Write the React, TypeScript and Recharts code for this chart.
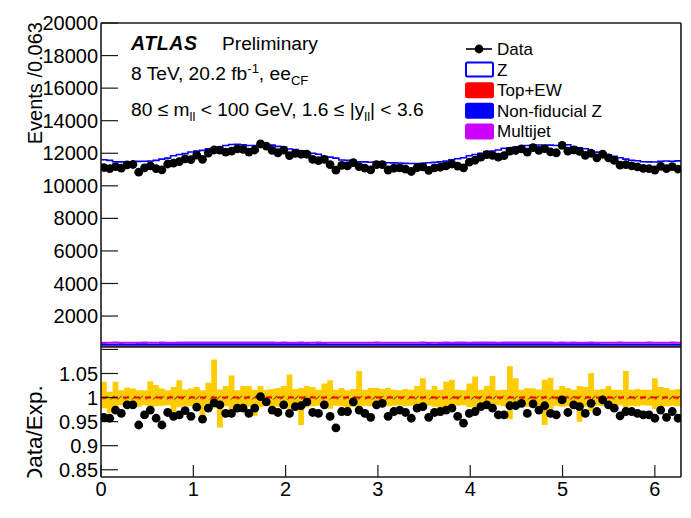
import React from "react";
import {
  ComposedChart,
  Area,
  Scatter,
  XAxis,
  YAxis,
  ReferenceLine,
  Legend,
} from "recharts";

const NBINS = 100;
const PHI_MAX = 2 * Math.PI;
const BIN_W = PHI_MAX / NBINS;

// Total expectation per phi bin (Z stacked on the backgrounds)
const expected = [
  11600, 11560, 11480, 11470, 11460, 11480, 11500, 11510, 11520, 11560,
  11640, 11700, 11850, 11920, 11980, 12080, 12130, 12180, 12280, 12340,
  12380, 12480, 12540, 12550, 12520, 12480, 12470, 12540, 12550, 12500,
  12420, 12380, 12260, 12220, 12150, 12050, 12000, 11940, 11800, 11760,
  11700, 11590, 11560, 11530, 11480, 11470, 11450, 11470, 11440, 11420,
  11410, 11400, 11380, 11370, 11360, 11380, 11420, 11450, 11470, 11520,
  11600, 11660, 11720, 11850, 11920, 11990, 12100, 12140, 12200, 12300,
  12340, 12380, 12420, 12480, 12500, 12510, 12490, 12500, 12480, 12550,
  12520, 12400, 12340, 12280, 12150, 12070, 12000, 11900, 11820, 11720,
  11640, 11570, 11540, 11480, 11470, 11460, 11500, 11520, 11510, 11530,
];

const dataCounts = [
  11120, 11060, 11180, 11090, 11290, 11310, 10840, 11100, 11220, 11060,
  10980, 11340, 11390, 11490, 11660, 11610, 11890, 11630, 12010, 12200,
  12190, 12070, 12130, 12270, 12240, 12070, 12200, 12570, 12440, 12180,
  12030, 12190, 11860, 11990, 11940, 11940, 11630, 11550, 11620, 11300,
  10960, 11250, 11220, 11430, 11180, 11090, 10980, 11300, 11300, 10970,
  11080, 11100, 11030, 10880, 11110, 11160, 10950, 11100, 11140, 11220,
  11340, 11210, 11100, 11460, 11570, 11760, 11920, 11870, 11760, 11860,
  12130, 12170, 12270, 12070, 12340, 12180, 12280, 12090, 12030, 12490,
  12130, 12210, 12110, 11870, 12000, 11720, 11940, 11720, 11560, 11270,
  11300, 11230, 11160, 11070, 11060, 10970, 11200, 11050, 11180, 11030,
];

const topEW = [
  172, 171, 170, 171, 169, 170, 172, 171, 170, 169,
  170, 171, 172, 173, 172, 174, 173, 172, 174, 175,
  174, 175, 174, 173, 174, 175, 174, 173, 172, 173,
  172, 171, 172, 170, 171, 170, 169, 170, 171, 170,
  169, 170, 168, 169, 170, 169, 170, 168, 169, 170,
  170, 169, 170, 171, 169, 170, 171, 170, 172, 171,
  172, 173, 172, 174, 173, 174, 175, 174, 173, 175,
  174, 175, 174, 173, 174, 173, 172, 173, 172, 171,
  172, 171, 170, 171, 170, 169, 170, 171, 169, 170,
  170, 169, 170, 171, 170, 169, 171, 170, 171, 172,
];

const nonFidZ = [
  150, 148, 149, 151, 150, 149, 150, 152, 151, 150,
  152, 153, 155, 154, 156, 157, 156, 158, 157, 158,
  159, 158, 160, 159, 158, 159, 160, 158, 157, 158,
  156, 157, 155, 154, 155, 153, 152, 153, 151, 150,
  150, 149, 148, 149, 150, 148, 149, 150, 148, 149,
  148, 149, 150, 148, 149, 150, 151, 150, 152, 153,
  154, 155, 156, 155, 157, 158, 157, 159, 158, 160,
  159, 160, 158, 159, 160, 158, 159, 157, 158, 156,
  155, 156, 154, 153, 152, 153, 151, 150, 151, 150,
  149, 150, 148, 149, 150, 149, 150, 151, 150, 149,
];

const multijet = [
  105, 98, 110, 102, 96, 108, 100, 112, 104, 99,
  107, 101, 95, 110, 103, 98, 106, 100, 113, 97,
  104, 109, 99, 102, 111, 96, 105, 100, 108, 103,
  98, 110, 101, 97, 106, 104, 99, 112, 100, 95,
  107, 103, 98, 109, 101, 105, 97, 111, 102, 99,
  106, 100, 96, 108, 103, 110, 98, 104, 101, 107,
  99, 112, 103, 97, 105, 100, 109, 102, 96, 108,
  104, 99, 111, 101, 98, 106, 103, 110, 97, 105,
  100, 108, 102, 96, 109, 104, 99, 107, 101, 112,
  98, 105, 103, 100, 110, 97, 106, 102, 108, 104,
];

const ratio = [
  0.959, 0.957, 0.974, 0.967, 0.985, 0.985, 0.943, 0.964, 0.974, 0.957,
  0.943, 0.969, 0.961, 0.964, 0.973, 0.961, 0.98, 0.955, 0.978, 0.989,
  0.985, 0.967, 0.967, 0.978, 0.978, 0.967, 0.978, 1.002, 0.991, 0.974,
  0.969, 0.985, 0.967, 0.981, 0.983, 0.991, 0.969, 0.967, 0.985, 0.961,
  0.937, 0.971, 0.971, 0.991, 0.974, 0.967, 0.959, 0.985, 0.988, 0.961,
  0.971, 0.974, 0.969, 0.957, 0.978, 0.981, 0.959, 0.969, 0.971, 0.974,
  0.978, 0.961, 0.947, 0.967, 0.971, 0.981, 0.985, 0.978, 0.964, 0.964,
  0.983, 0.983, 0.988, 0.967, 0.987, 0.974, 0.983, 0.967, 0.964, 0.995,
  0.969, 0.985, 0.981, 0.967, 0.988, 0.971, 0.995, 0.985, 0.978, 0.962,
  0.971, 0.971, 0.967, 0.964, 0.964, 0.957, 0.974, 0.959, 0.971, 0.957,
];

// total systematic band around 1
const bandHi = [
  1.033, 1.012, 1.033, 1.015, 1.021, 1.019, 1.015, 1.015, 1.034, 1.026,
  1.019, 1.015, 1.022, 1.036, 1.017, 1.019, 1.022, 1.015, 1.031, 1.079,
  1.017, 1.024, 1.046, 1.015, 1.024, 1.024, 1.016, 1.024, 1.016, 1.018,
  1.02, 1.024, 1.048, 1.018, 1.02, 1.024, 1.022, 1.016, 1.029, 1.036,
  1.016, 1.02, 1.015, 1.018, 1.055, 1.016, 1.02, 1.02, 1.018, 1.02,
  1.016, 1.015, 1.018, 1.016, 1.024, 1.04, 1.016, 1.024, 1.016, 1.033,
  1.037, 1.016, 1.015, 1.029, 1.044, 1.016, 1.024, 1.045, 1.015, 1.016,
  1.065, 1.04, 1.016, 1.02, 1.019, 1.017, 1.037, 1.041, 1.016, 1.024,
  1.02, 1.016, 1.024, 1.022, 1.051, 1.016, 1.018, 1.024, 1.016, 1.016,
  1.055, 1.016, 1.018, 1.016, 1.016, 1.04, 1.022, 1.02, 1.016, 1.018,
];

const bandLo = [
  0.978, 0.968, 0.98, 0.984, 0.982, 0.983, 0.981, 0.984, 0.979, 0.982,
  0.983, 0.984, 0.965, 0.98, 0.983, 0.982, 0.981, 0.95, 0.98, 0.978,
  0.938, 0.982, 0.975, 0.984, 0.98, 0.981, 0.962, 0.98, 0.983, 0.982,
  0.981, 0.98, 0.976, 0.983, 0.943, 0.98, 0.982, 0.983, 0.979, 0.977,
  0.983, 0.982, 0.962, 0.981, 0.972, 0.983, 0.982, 0.981, 0.983, 0.982,
  0.983, 0.984, 0.982, 0.983, 0.98, 0.977, 0.983, 0.981, 0.962, 0.979,
  0.978, 0.983, 0.984, 0.98, 0.975, 0.983, 0.981, 0.976, 0.984, 0.982,
  0.955, 0.978, 0.983, 0.981, 0.982, 0.983, 0.943, 0.977, 0.983, 0.981,
  0.982, 0.983, 0.95, 0.981, 0.972, 0.983, 0.982, 0.98, 0.983, 0.984,
  0.97, 0.983, 0.982, 0.984, 0.983, 0.976, 0.981, 0.982, 0.983, 0.982,
];

// MC statistical band (hatched)
const mcStat = [0.996, 1.004];

// axis ticks
const xMajor = [0, 1, 2, 3, 4, 5, 6];
const yMajorEvents = [2000, 4000, 6000, 8000, 10000, 12000, 14000, 16000, 18000, 20000];
const yMajorRatio = [0.85, 0.9, 0.95, 1, 1.05, 1.1];

function minorTicks(lo: number, hi: number, step: number, majorStep: number) {
  const out: number[] = [];
  for (let v = lo; v <= hi + 1e-9; v += step) {
    const r = Math.round(v / step) * step;
    const m = r / majorStep;
    if (Math.abs(m - Math.round(m)) > 1e-6) out.push(+r.toFixed(4));
  }
  return out;
}
const xMinor = minorTicks(0.2, 6.2, 0.2, 1);
const yMinorEvents = minorTicks(400, 19600, 400, 2000);
const yMinorRatio = minorTicks(0.84, 1.1, 0.01, 0.05);

// histogram rows at bin edges (last edge repeats the last bin for the step)
const histRows = Array.from({ length: NBINS + 1 }, (_, i) => {
  const b = Math.min(i, NBINS - 1);
  return {
    x: i * BIN_W,
    expected: expected[b],
    topEW: topEW[b],
    nonFidZ: nonFidZ[b],
    multijet: multijet[b],
    band: [bandLo[b], bandHi[b]],
    stat: mcStat,
  };
});
const dataPoints = dataCounts.map((y, i) => ({ x: (i + 0.5) * BIN_W, y }));
const ratioPoints = ratio.map((y, i) => ({ x: (i + 0.5) * BIN_W, y }));

const FONT = '"Liberation Sans", Arial, Helvetica, sans-serif';
const AXIS = "#1a1a1a";
const TICK_TEXT = { fontSize: 20, fill: "#000" };
// axes get a hair-thin size: zero-sized axes are not drawn, and the
// frame sits on the plot edge with the labels living in the margins
const THIN = 0.01;

type FrameOpts = {
  yDomain: [number, number];
  yMajor: number[];
  yMinor: number[];
  yMaj: number;
  yMin: number;
  xMaj: number;
  xMin: number;
  xTopMaj: number;
  xTopMin: number;
  xLabels: boolean;
  yFormat?: (v: number) => string;
};

// ROOT-style frame: inward ticks on all four sides, labels on left/bottom
function frame(o: FrameOpts) {
  const line = { stroke: AXIS, strokeWidth: 1.6 };
  const tl = { stroke: AXIS, strokeWidth: 1.2 };
  const xd: [number, number] = [0, PHI_MAX];
  return [
    <XAxis key="x" xAxisId="x" dataKey="x" type="number" domain={xd} allowDataOverflow
      ticks={xMajor} interval={0} height={THIN} tickSize={-o.xMaj} tickMargin={o.xMaj + 5}
      tick={o.xLabels ? TICK_TEXT : false} axisLine={line} tickLine={tl} />,
    <XAxis key="xm" xAxisId="xm" type="number" domain={xd} allowDataOverflow
      ticks={xMinor} interval={0} height={THIN} tickSize={-o.xMin} tick={false}
      axisLine={false} tickLine={tl} />,
    <XAxis key="xt" xAxisId="xt" orientation="top" type="number" domain={xd} allowDataOverflow
      ticks={xMajor} interval={0} height={THIN} tickSize={-o.xTopMaj} tick={false}
      axisLine={line} tickLine={tl} />,
    <XAxis key="xtm" xAxisId="xtm" orientation="top" type="number" domain={xd} allowDataOverflow
      ticks={xMinor} interval={0} height={THIN} tickSize={-o.xTopMin} tick={false}
      axisLine={false} tickLine={tl} />,
    <YAxis key="y" yAxisId="y" type="number" domain={o.yDomain} allowDataOverflow
      ticks={o.yMajor} interval={0} width={THIN} tickSize={-o.yMaj} tickMargin={o.yMaj + 3}
      tick={TICK_TEXT} tickFormatter={o.yFormat} axisLine={line} tickLine={tl} />,
    <YAxis key="ym" yAxisId="ym" type="number" domain={o.yDomain} allowDataOverflow
      ticks={o.yMinor} interval={0} width={THIN} tickSize={-o.yMin} tick={false}
      axisLine={false} tickLine={tl} />,
    <YAxis key="yr" yAxisId="yr" orientation="right" type="number" domain={o.yDomain} allowDataOverflow
      ticks={o.yMajor} interval={0} width={THIN} tickSize={-o.yMaj} tick={false}
      axisLine={line} tickLine={tl} />,
    <YAxis key="yrm" yAxisId="yrm" orientation="right" type="number" domain={o.yDomain} allowDataOverflow
      ticks={o.yMinor} interval={0} width={THIN} tickSize={-o.yMin} tick={false}
      axisLine={false} tickLine={tl} />,
  ];
}

const dot = (p: any) => <circle cx={p.cx} cy={p.cy} r={4.4} fill="#000" />;

const legendItems = [
  { label: "Data", fill: "", stroke: "" },
  { label: "Z", fill: "#ffffff", stroke: "#0000ff" },
  { label: "Top+EW", fill: "#ff0000", stroke: "#ff0000" },
  { label: "Non-fiducial Z", fill: "#0000ff", stroke: "#0000ff" },
  { label: "Multijet", fill: "#cc00ff", stroke: "#cc00ff" },
];

const renderLegend = () => (
  <svg width={220} height={112} style={{ fontFamily: FONT }}>
    {legendItems.map((it, i) => {
      const cy = 11 + i * 20.6;
      return (
        <g key={it.label}>
          {it.label === "Data" ? (
            <g>
              <line x1={4} x2={30} y1={cy} y2={cy} stroke="#000" strokeWidth={1.6} />
              <circle cx={17} cy={cy} r={4.4} fill="#000" />
            </g>
          ) : (
            <rect x={4} y={cy - 7} width={27} height={14} rx={1.5}
              fill={it.fill} stroke={it.stroke} strokeWidth={2} />
          )}
          <text x={35} y={cy + 6} fontSize={17} fill="#000">{it.label}</text>
        </g>
      );
    })}
  </svg>
);

const EventsPanel = () => (
  <ComposedChart width={691} height={347} data={histRows}
    margin={{ top: 23, right: 10, bottom: 0, left: 101 }}>
    {frame({
      yDomain: [100, 20000], yMajor: yMajorEvents, yMinor: yMinorEvents,
      yMaj: 17, yMin: 9, xMaj: 9, xMin: 5, xTopMaj: 9, xTopMin: 5, xLabels: false,
    })}
    <Area xAxisId="x" yAxisId="y" stackId="bg" type="stepAfter" dataKey="topEW"
      fill="#ff0000" fillOpacity={1} stroke="none" isAnimationActive={false} />
    <Area xAxisId="x" yAxisId="y" stackId="bg" type="stepAfter" dataKey="nonFidZ"
      fill="#0000ff" fillOpacity={1} stroke="none" isAnimationActive={false} />
    <Area xAxisId="x" yAxisId="y" stackId="bg" type="stepAfter" dataKey="multijet"
      fill="#cc00ff" fillOpacity={1} stroke="none" isAnimationActive={false} />
    <Area xAxisId="x" yAxisId="y" type="stepAfter" dataKey="expected"
      fill="none" stroke="#0000ff" strokeWidth={1.6} isAnimationActive={false} />
    <Scatter xAxisId="x" yAxisId="y" data={dataPoints} dataKey="y" shape={dot}
      isAnimationActive={false} />
    <Legend content={renderLegend} layout="vertical" verticalAlign="middle" align="center"
      wrapperStyle={{ position: "absolute", left: 462, top: 38, width: 220, height: 112 }} />
  </ComposedChart>
);

const RatioPanel = () => (
  <ComposedChart width={691} height={171} data={histRows}
    margin={{ top: 0, right: 10, bottom: 41, left: 101 }}>
    <defs>
      <pattern id="mcHatch" width={5} height={5} patternUnits="userSpaceOnUse"
        patternTransform="rotate(45)">
        <line x1={0} y1={0} x2={0} y2={5} stroke="#000" strokeWidth={1.2} />
      </pattern>
    </defs>
    {frame({
      yDomain: [0.835, 1.105], yMajor: yMajorRatio, yMinor: yMinorRatio,
      yMaj: 17, yMin: 8, xMaj: 12, xMin: 6, xTopMaj: 9, xTopMin: 5, xLabels: true,
      yFormat: (v: number) => (v > 1.09 ? "" : String(v)),
    })}
    <Area xAxisId="x" yAxisId="y" type="stepAfter" dataKey="band"
      fill="#ffcc00" fillOpacity={1} stroke="none" isAnimationActive={false} />
    <Area xAxisId="x" yAxisId="y" type="stepAfter" dataKey="stat"
      fill="url(#mcHatch)" fillOpacity={1} stroke="none" isAnimationActive={false} />
    <ReferenceLine xAxisId="x" yAxisId="y" y={1} stroke="#ff0000" strokeWidth={2}
      strokeDasharray="6 5" />
    <Scatter xAxisId="x" yAxisId="y" data={ratioPoints} dataKey="y" shape={dot}
      isAnimationActive={false} />
  </ComposedChart>
);

export default function App() {
  return (
    <div style={{ position: "absolute", left: 0, top: 0, width: 691, height: 518,
      background: "#fff", fontFamily: FONT }}>
      <div style={{ position: "absolute", left: 0, top: 0 }}>
        <EventsPanel />
      </div>
      <div style={{ position: "absolute", left: 0, top: 347 }}>
        <RatioPanel />
      </div>
      <svg width={691} height={518}
        style={{ position: "absolute", left: 0, top: 0, pointerEvents: "none", fontFamily: FONT }}>
        <defs>
          <clipPath id="ratioTitleClip">
            <rect x={0} y={340} width={60} height={137.5} />
          </clipPath>
        </defs>
        <text x={131} y={50} fontSize={19.5} fontWeight="bold" fontStyle="italic" letterSpacing={0.6}>
          ATLAS
        </text>
        <text x={222} y={50} fontSize={19.2}>Preliminary</text>
        <text x={131} y={80} fontSize={19.2}>
          8 TeV, 20.2 fb<tspan dy={-7} fontSize={13}>-1</tspan>
          <tspan dy={7}>, ee</tspan>
          <tspan dy={5} fontSize={13}>CF</tspan>
        </text>
        <text x={131} y={116} fontSize={19.2}>
          80 ≤ m<tspan dy={5} fontSize={13}>ll</tspan>
          <tspan dy={-5}> &lt; 100 GeV, 1.6 ≤ |y</tspan>
          <tspan dy={5} fontSize={13}>ll</tspan>
          <tspan dy={-5}>| &lt; 3.6</tspan>
        </text>
        <text transform="translate(42,22) rotate(-90)" textAnchor="end" fontSize={20}>
          Events /0.063
        </text>
        <g clipPath="url(#ratioTitleClip)">
          <text transform="translate(42,484) rotate(-90)" fontSize={22.5}>Data/Exp.</text>
        </g>
      </svg>
    </div>
  );
}
